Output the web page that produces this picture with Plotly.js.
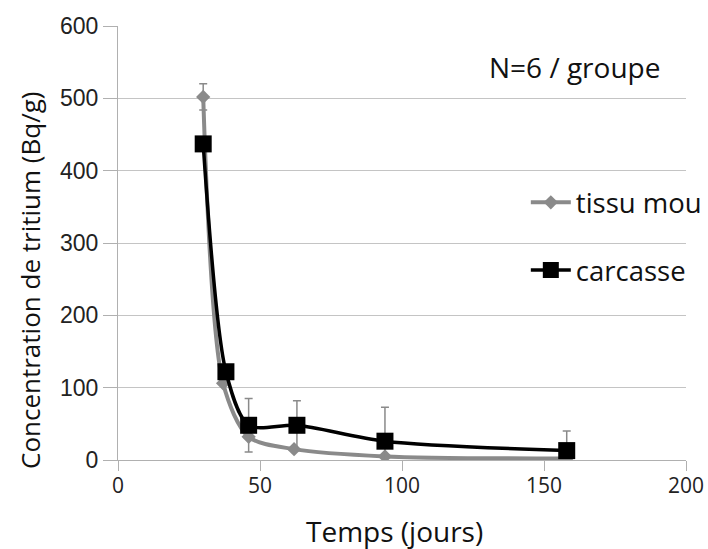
<!DOCTYPE html>
<html>
<head>
<meta charset="utf-8">
<script src="https://cdn.plot.ly/plotly-3.0.1.min.js"></script>
<style>body{margin:0;padding:0;background:#fff;}#chart{width:708px;height:549px;}</style>
</head>
<body>
<div id="chart"></div>
<script>
// Data
var tissuX = [30, 37, 46, 62, 94, 158];
var tissuY = [502, 106, 32, 15, 5, 2];
var tissuErr = [18, 0, 0, 0, 0, 0];

var carcasseX = [30, 38, 46, 63, 94, 158];
var carcasseY = [437, 122, 48, 48, 26, 13];
var carcasseErr = [0, 0, 37, 34, 47, 27];

var seriesNames = ["tissu mou", "carcasse"];
var yTicks = [0, 100, 200, 300, 400, 500, 600];
var xTicks = [0, 50, 100, 150, 200];

var titleFont = "Open Sans, Noto Sans, sans-serif";
var yTickFont = "Liberation Sans, Arial, sans-serif";

var traces = [
  {
    x: tissuX, y: tissuY, name: seriesNames[0], legendgroup: "a",
    mode: "lines+markers", type: "scatter",
    line: {color: "#8a8a8a", width: 4, shape: "spline", smoothing: 0.8},
    marker: {symbol: "diamond", size: 11, color: "#8a8a8a"},
    error_y: {type: "data", array: tissuErr, visible: true, color: "#8a8a8a", thickness: 1.5, width: 4}
  },
  {
    x: carcasseX, y: carcasseY, name: seriesNames[1], legendgroup: "b",
    mode: "lines+markers", type: "scatter",
    line: {color: "#000000", width: 3.5, shape: "spline", smoothing: 0.8},
    marker: {symbol: "square", size: 17, color: "#000000"},
    error_y: {type: "data", array: carcasseErr, visible: true, color: "#8a8a8a", thickness: 1.5, width: 4}
  }
];

var layout = {
  width: 708, height: 549,
  margin: {l: 118, r: 22, t: 26, b: 89, autoexpand: false},
  paper_bgcolor: "#fff", plot_bgcolor: "#fff",
  showlegend: true,
  legend: {
    x: 0.718, y: 0.65, xanchor: "left", yanchor: "top",
    bgcolor: "rgba(0,0,0,0)", font: {family: titleFont, size: 27.5, color: "#111"},
    tracegroupgap: 29, traceorder: "grouped", itemwidth: 40
  },
  shapes: [{
    type: "rect", xref: "x", yref: "y", x0: 154, x1: 200, y0: 240, y1: 385,
    fillcolor: "#fff", line: {width: 0}, layer: "below"
  }],
  xaxis: {
    range: [0, 200], tickvals: xTicks, ticktext: xTicks.map(String),
    showgrid: false, zeroline: false, automargin: false,
    showline: true, linecolor: "#b0b0b0", linewidth: 1,
    ticks: "outside", ticklen: 10, tickcolor: "#b0b0b0", ticklabelstandoff: -3,
    tickfont: {family: titleFont, size: 21, color: "#222"}
  },
  yaxis: {
    range: [0, 600], tickvals: yTicks, ticktext: yTicks.map(String),
    showgrid: true, gridcolor: "#c4c4c4", gridwidth: 1, zeroline: false, automargin: false,
    showline: true, linecolor: "#b0b0b0", linewidth: 1,
    ticks: "outside", ticklen: 14, tickcolor: "#b0b0b0",
    tickfont: {family: yTickFont, size: 23, color: "#222"}
  },
  annotations: [
    {
      text: "N=6 / groupe", xref: "paper", yref: "paper",
      x: 0.803, y: 0.906, xanchor: "center", yanchor: "middle",
      showarrow: false, font: {family: titleFont, size: 28, color: "#111"}
    },
    {
      text: "Temps (jours)", xref: "paper", yref: "paper",
      x: (394 - 118) / 568, y: -(531 - 460) / 434, xanchor: "center", yanchor: "middle",
      showarrow: false, font: {family: titleFont, size: 28, color: "#111"}
    },
    {
      text: "Concentration de tritium (Bq/g)", xref: "paper", yref: "paper", textangle: -90,
      x: (30 - 118) / 568, y: (460 - 281) / 434, xanchor: "center", yanchor: "middle",
      showarrow: false, font: {family: titleFont, size: 26, color: "#111"}
    }
  ]
};

Plotly.newPlot("chart", traces, layout, {displayModeBar: false, staticPlot: true});
</script>
</body>
</html>
